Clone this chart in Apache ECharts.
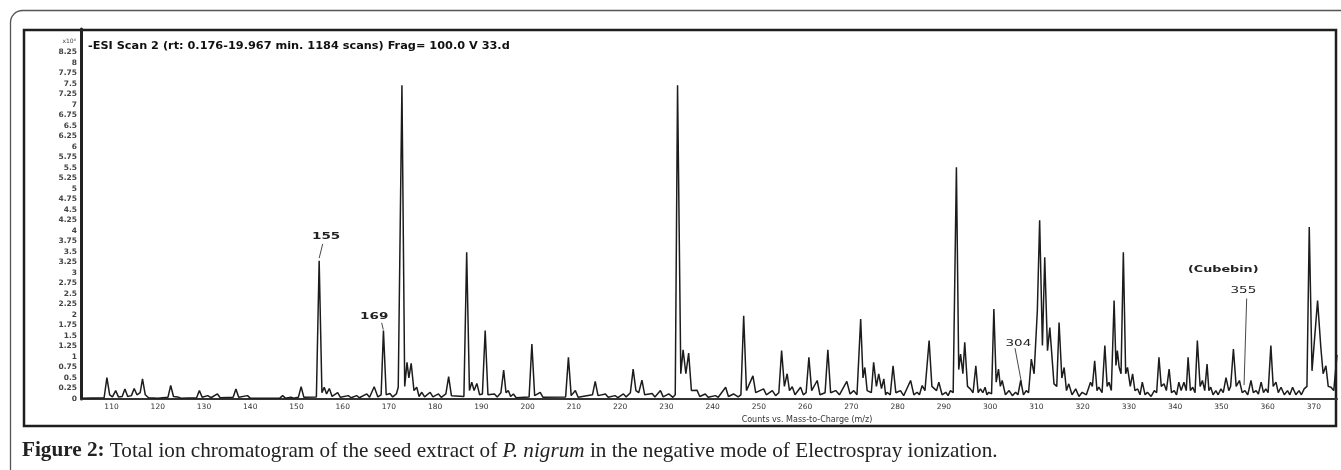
<!DOCTYPE html>
<html>
<head>
<meta charset="utf-8">
<title>Total ion chromatogram - P. nigrum</title>
<script src="https://cdn.jsdelivr.net/npm/echarts@6/dist/echarts.min.js"></script>
<style>
html, body { margin: 0; padding: 0; background: #fff; }
#chart { width: 1341px; height: 470px; }
</style>
</head>
<body>
<div id="chart"></div>
<script>
// m/z of every vertex of the profile (peak tops and the valleys between them)
const mz = [
  103.4, 108.4, 109.0, 109.6, 110.2, 110.9, 111.5, 112.3, 112.9, 113.5,
  114.3, 114.9, 115.5, 116.2, 116.7, 117.3, 118.0, 120.0, 122.2, 122.8,
  123.4, 124.3, 125.0, 128.4, 129.0, 129.6, 130.8, 131.5, 132.9, 133.5,
  136.3, 136.9, 137.5, 139.4, 140.0, 146.4, 147.0, 147.6, 148.8, 149.4,
  150.4, 151.0, 151.6, 154.3, 154.9, 155.5, 156.0, 156.5, 157.1, 157.7,
  158.9, 159.5, 161.2, 161.8, 163.0, 163.6, 165.2, 165.8, 166.8, 167.6,
  168.3, 168.8, 169.4, 170.2, 170.8, 171.6, 172.0, 172.8, 173.4, 173.9,
  174.3, 174.8, 175.4, 176.0, 176.5, 177.1, 177.7, 178.9, 179.5, 180.7,
  181.3, 182.3, 182.9, 183.5, 186.2, 186.8, 187.4, 187.9, 188.4, 189.0,
  189.6, 190.2, 190.8, 191.4, 192.8, 193.4, 194.2, 194.8, 195.3, 195.8,
  196.3, 196.9, 197.5, 200.3, 200.9, 201.5, 202.7, 203.3, 208.2, 208.8,
  209.4, 210.3, 210.9, 214.0, 214.6, 215.2, 216.8, 217.4, 218.9, 219.5,
  220.7, 221.3, 222.2, 222.8, 223.4, 224.0, 224.7, 225.3, 226.9, 227.5,
  228.7, 229.3, 230.5, 231.4, 231.9, 232.4, 233.1, 233.6, 234.2, 234.8,
  235.4, 236.6, 237.2, 238.4, 239.0, 240.6, 241.2, 242.8, 243.4, 244.5,
  245.5, 246.1, 246.7, 247.3, 248.7, 249.3, 251.0, 251.6, 252.9, 253.6,
  254.3, 254.9, 255.5, 256.1, 256.6, 257.2, 257.8, 259.0, 259.6, 260.2,
  260.8, 261.4, 262.6, 263.2, 264.3, 264.9, 265.5, 266.6, 267.4, 269.0,
  269.7, 270.5, 271.2, 272.0, 272.5, 272.9, 273.4, 273.8, 274.3, 274.8,
  275.4, 275.9, 276.5, 277.0, 277.4, 277.7, 278.4, 279.0, 279.6, 280.6,
  281.3, 282.8, 283.5, 284.2, 284.7, 285.3, 285.9, 286.8, 287.4, 287.8,
  288.4, 288.9, 289.6, 290.4, 290.9, 291.4, 292.0, 292.7, 293.2, 293.6,
  294.1, 294.5, 295.1, 295.7, 296.3, 296.9, 297.4, 297.9, 298.4, 298.9,
  299.3, 299.7, 300.3, 300.8, 301.3, 301.8, 302.2, 302.6, 303.3, 304.1,
  304.8, 305.5, 306.0, 306.6, 307.2, 307.8, 308.3, 308.9, 309.5, 310.2,
  310.7, 311.3, 311.8, 312.4, 312.9, 313.8, 314.4, 314.9, 315.5, 316.0,
  316.5, 317.0, 317.7, 318.5, 319.2, 319.9, 320.8, 321.7, 322.1, 322.6,
  323.1, 323.5, 324.2, 324.8, 325.3, 325.7, 326.2, 326.8, 327.2, 327.5,
  327.9, 328.3, 328.8, 329.3, 329.7, 330.3, 330.8, 331.3, 331.9, 332.4,
  332.9, 333.5, 334.0, 334.8, 335.5, 336.0, 336.5, 337.0, 337.6, 338.1,
  338.7, 339.2, 339.8, 340.3, 340.8, 341.3, 341.9, 342.4, 342.8, 343.3,
  343.8, 344.3, 344.8, 345.4, 345.9, 346.4, 346.9, 347.3, 347.7, 348.2,
  348.8, 349.3, 349.9, 350.4, 351.0, 351.6, 352.0, 352.6, 353.2, 353.9,
  354.5, 355.1, 355.7, 356.4, 356.9, 357.5, 358.0, 358.6, 359.1, 359.6,
  360.1, 360.7, 361.2, 361.8, 362.3, 362.9, 363.6, 364.3, 364.8, 365.4,
  366.1, 366.8, 367.3, 367.9, 368.5, 369.0, 369.6, 370.8, 371.5, 372.0,
  372.6, 373.1, 373.7, 374.3, 375.0
];

// counts, x10^4
const counts = [
  0.02, 0.03, 0.51, 0.10, 0.05, 0.20, 0.05, 0.06, 0.24, 0.06,
  0.08, 0.25, 0.10, 0.15, 0.48, 0.10, 0.03, 0.02, 0.04, 0.32,
  0.06, 0.05, 0.02, 0.03, 0.20, 0.04, 0.08, 0.03, 0.12, 0.03,
  0.04, 0.24, 0.04, 0.08, 0.02, 0.02, 0.08, 0.02, 0.04, 0.02,
  0.04, 0.29, 0.04, 0.05, 3.29, 0.15, 0.28, 0.12, 0.25, 0.06,
  0.15, 0.04, 0.08, 0.03, 0.08, 0.03, 0.12, 0.04, 0.29, 0.05,
  0.10, 1.63, 0.10, 0.13, 0.05, 0.12, 0.28, 7.46, 0.30, 0.87,
  0.50, 0.85, 0.20, 0.28, 0.06, 0.16, 0.05, 0.16, 0.05, 0.12,
  0.04, 0.12, 0.53, 0.08, 0.06, 3.49, 0.20, 0.40, 0.20, 0.37,
  0.10, 0.12, 1.63, 0.10, 0.12, 0.05, 0.15, 0.69, 0.15, 0.20,
  0.06, 0.12, 0.03, 0.05, 1.31, 0.08, 0.16, 0.04, 0.05, 0.99,
  0.08, 0.20, 0.04, 0.10, 0.42, 0.08, 0.12, 0.04, 0.08, 0.03,
  0.12, 0.05, 0.15, 0.71, 0.20, 0.15, 0.45, 0.10, 0.13, 0.05,
  0.20, 0.05, 0.12, 0.04, 0.10, 7.46, 0.60, 1.17, 0.60, 1.09,
  0.20, 0.21, 0.06, 0.12, 0.04, 0.08, 0.04, 0.28, 0.06, 0.12,
  0.05, 0.10, 1.98, 0.20, 0.55, 0.15, 0.24, 0.10, 0.20, 0.08,
  0.15, 1.15, 0.30, 0.60, 0.20, 0.29, 0.10, 0.28, 0.10, 0.15,
  0.99, 0.20, 0.44, 0.10, 0.15, 1.17, 0.15, 0.20, 0.10, 0.42,
  0.12, 0.20, 0.10, 1.90, 0.50, 0.75, 0.20, 0.24, 0.15, 0.87,
  0.30, 0.60, 0.25, 0.48, 0.10, 0.16, 0.10, 0.79, 0.15, 0.20,
  0.08, 0.44, 0.10, 0.16, 0.10, 0.32, 0.20, 1.39, 0.30, 0.32,
  0.20, 0.40, 0.10, 0.16, 0.08, 0.20, 0.15, 5.51, 0.70, 1.07,
  0.60, 1.35, 0.30, 0.24, 0.15, 0.79, 0.15, 0.24, 0.15, 0.28,
  0.10, 0.16, 0.12, 2.14, 0.40, 0.71, 0.30, 0.44, 0.10, 0.20,
  0.08, 0.16, 0.10, 0.44, 0.10, 0.20, 0.15, 0.95, 0.60, 2.10,
  4.25, 1.27, 3.37, 1.15, 1.70, 0.36, 0.30, 1.82, 0.50, 0.75,
  0.20, 0.36, 0.10, 0.24, 0.06, 0.16, 0.10, 0.40, 0.30, 0.91,
  0.20, 0.28, 0.15, 1.27, 0.30, 0.40, 0.20, 2.34, 0.80, 1.15,
  0.75, 0.60, 3.49, 0.60, 0.75, 0.30, 0.60, 0.20, 0.24, 0.10,
  0.40, 0.10, 0.16, 0.06, 0.20, 0.15, 0.99, 0.30, 0.36, 0.20,
  0.71, 0.15, 0.20, 0.10, 0.40, 0.20, 0.40, 0.20, 0.99, 0.20,
  0.28, 0.15, 1.39, 0.30, 0.44, 0.20, 0.83, 0.20, 0.28, 0.10,
  0.20, 0.10, 0.24, 0.15, 0.51, 0.20, 0.30, 1.19, 0.30, 0.44,
  0.15, 0.20, 0.10, 0.44, 0.15, 0.20, 0.12, 0.40, 0.15, 0.24,
  0.15, 1.27, 0.30, 0.40, 0.15, 0.28, 0.10, 0.20, 0.10, 0.28,
  0.10, 0.20, 0.10, 0.24, 0.30, 4.09, 0.67, 2.34, 1.23, 0.60,
  0.79, 0.30, 0.28, 0.20, 1.05
];

// annotated peaks: label text and m/z
const peakNames = ['155', '169', '304', '355'];
const peakMz = [154.9, 168.8, 306.6, 355.1];

const title = '-ESI Scan 2 (rt: 0.176-19.967 min. 1184 scans) Frag= 100.0 V 33.d';
const xName = 'Counts vs. Mass-to-Charge (m/z)';
const yTop = 8.25; // highest labelled tick

const chart = echarts.init(document.getElementById('chart'));

const option = {
  animation: false,
  backgroundColor: '#fff',
  grid: { left: 81, right: 4, top: 29, bottom: 71 },
  xAxis: {
    type: 'value',
    min: 103.4,
    max: 375,
    splitNumber: 27,
    axisLine: { show: true, lineStyle: { color: '#333', width: 2 } },
    axisTick: { show: false },
    splitLine: { show: false },
    axisLabel: {
      margin: 4,
      fontSize: 7.5,
      fontFamily: 'DejaVu Sans',
      color: '#333',
      formatter: v => (Math.abs(v % 10) < 1e-6 ? String(Math.round(v)) : '')
    }
  },
  yAxis: {
    type: 'value',
    min: 0,
    max: 8.8,
    interval: 0.25,
    axisLine: { show: true, lineStyle: { color: '#222', width: 3 } },
    axisTick: { show: false },
    splitLine: { show: false },
    axisLabel: {
      margin: 4,
      fontSize: 7.5,
      fontWeight: 'bold',
      fontFamily: 'DejaVu Sans',
      color: '#444',
      formatter: v => (v > yTop + 1e-6 ? '' : String(v))
    }
  },
  series: [{
    type: 'line',
    data: mz.map((m, i) => [m, counts[i]]),
    showSymbol: false,
    lineStyle: { color: '#1c1c1c', width: 1.5 },
    clip: true
  }]
};
chart.setOption(option);

// annotations placed through the chart's own scales
const px = (m, v) => chart.convertToPixel({ xAxisIndex: 0, yAxisIndex: 0 }, [m, v]);
const labelStyle = (text, bold, size) => ({
  text: text,
  x: 0, y: 0,
  align: 'center',
  verticalAlign: 'middle',
  fill: '#222',
  fontSize: size,
  fontWeight: bold ? 'bold' : 'normal',
  fontFamily: 'DejaVu Sans'
});
const leader = (a, b) => ({
  type: 'line',
  shape: { x1: a[0], y1: a[1], x2: b[0], y2: b[1] },
  style: { stroke: '#333', lineWidth: 0.9 },
  silent: true
});
const tag = (p, text, bold, size) => ({
  type: 'text', x: p[0], y: p[1], scaleX: 1.5,
  style: labelStyle(text, bold, size), silent: true
});

const graphics = [
  // outer rounded panel
  { type: 'rect', shape: { x: 10.5, y: 10.5, width: 1400, height: 520, r: 12 },
    style: { fill: 'none', stroke: '#555', lineWidth: 1.3 }, silent: true },
  // chart frame
  { type: 'rect', shape: { x: 24, y: 30, width: 1312, height: 396 },
    style: { fill: 'none', stroke: '#1e1e1e', lineWidth: 2.5 }, silent: true },
  { type: 'text', x: 88, y: 46,
    style: { text: title, fontSize: 11.3, fontWeight: 'bold', fontFamily: 'DejaVu Sans',
             fill: '#111', verticalAlign: 'middle' }, silent: true },
  { type: 'text', x: 76, y: 41,
    style: { text: 'x10⁴', fontSize: 6, fontFamily: 'DejaVu Sans', fill: '#444',
             align: 'right', verticalAlign: 'middle' }, silent: true },
  { type: 'text', x: 807, y: 420,
    style: { text: xName, fontSize: 8, fontFamily: 'DejaVu Sans', fill: '#333',
             align: 'center', verticalAlign: 'middle' }, silent: true },
  // peak labels
  tag(px(156.4, 3.86), peakNames[0], true, 9),
  leader(px(155.67, 3.69), px(peakMz[0], 3.35)),
  tag(px(166.8, 1.96), peakNames[1], true, 9),
  leader(px(168.42, 1.81), px(peakMz[1] - 0.03, 1.65)),
  tag(px(306.1, 1.32), peakNames[2], false, 9),
  leader(px(305.37, 1.21), px(peakMz[2] + 0.2, 0.37)),
  tag(px(350.4, 3.07), '(Cubebin)', true, 8.5),
  tag(px(354.75, 2.57), peakNames[3], false, 9),
  leader(px(355.47, 2.39), px(peakMz[3] - 0.2, 0.33)),
  // caption
  { type: 'text', x: 22, y: 451,
    style: {
      text: '{b|Figure 2:} Total ion chromatogram of the seed extract of {i|P. nigrum} in the negative mode of Electrospray ionization.',
      fontSize: 21.2, fontFamily: 'Liberation Serif', fill: '#222', verticalAlign: 'middle',
      rich: {
        b: { fontSize: 21.2, fontFamily: 'Liberation Serif', fontWeight: 'bold', fill: '#222' },
        i: { fontSize: 21.2, fontFamily: 'Liberation Serif', fontStyle: 'italic', fill: '#222' }
      }
    }, silent: true }
];
chart.setOption({ graphic: graphics });
</script>
</body>
</html>
